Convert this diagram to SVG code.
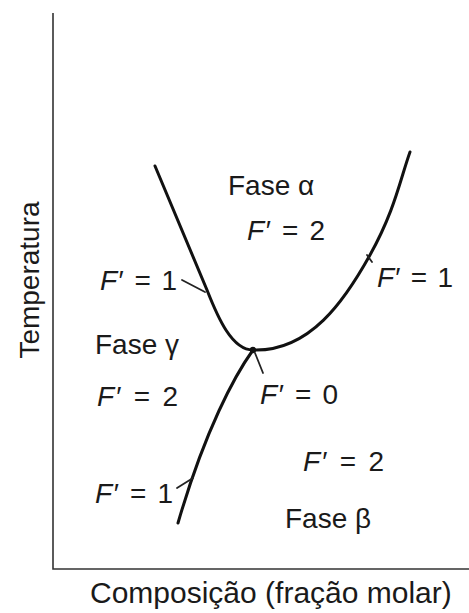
<svg xmlns="http://www.w3.org/2000/svg" width="469" height="613" viewBox="0 0 469 613">
<style>
.t{font-family:"Liberation Sans",Arial,sans-serif;font-size:28px;fill:#1a1a1a}
.f{font-style:italic}
.c{fill:none;stroke:#111;stroke-width:3;stroke-linecap:round}
.k{fill:none;stroke:#222;stroke-width:1.8;stroke-linecap:round}
.ax{fill:none;stroke:#333;stroke-width:1.6}
</style>
<rect width="469" height="613" fill="#fff"/>
<g id="axes">
<path class="ax" d="M53,13 V569 H469"/>
<text id="ylabel" class="t" text-anchor="middle" transform="translate(39,280) rotate(-90)">Temperatura</text>
<text id="xlabel" class="t" x="90" y="603" style="font-size:30px">Composição (fração molar)</text>
</g>
<g id="connectors">
<path class="c" d="M155,166 L207,290 C218,318 232,350 253,350"/>
<path class="c" d="M253,350 C310,352 345,300 370,255 S400,180 410,152"/>
<path class="c" d="M253,350 C235,375 205,430 178,523"/>
<circle cx="253" cy="350" r="3.2" fill="#111"/>
<path class="k" d="M182,280 L205,292"/>
<path class="k" d="M367,255 L372,262"/>
<path class="k" d="M255,353 L263,373"/>
<path class="k" d="M177,488 L193,478"/>
</g>
<g id="alpha">
<text class="t" x="228" y="195">Fase α</text>
<text class="t" x="247" y="240" textLength="78" lengthAdjust="spacing"><tspan class="f">F</tspan>′ = 2</text>
</g>
<g id="gamma">
<text class="t" x="95" y="354">Fase γ</text>
<text class="t" x="97" y="406" textLength="81" lengthAdjust="spacing"><tspan class="f">F</tspan>′ = 2</text>
</g>
<g id="beta">
<text class="t" x="303" y="471" textLength="81" lengthAdjust="spacing"><tspan class="f">F</tspan>′ = 2</text>
<text class="t" x="285" y="528">Fase β</text>
</g>
<g id="boundary-left">
<text class="t" x="100" y="290" textLength="77" lengthAdjust="spacing"><tspan class="f">F</tspan>′ = 1</text>
</g>
<g id="boundary-right">
<text class="t" x="377" y="287" textLength="76" lengthAdjust="spacing"><tspan class="f">F</tspan>′ = 1</text>
</g>
<g id="boundary-lower">
<text class="t" x="95" y="503" textLength="78" lengthAdjust="spacing"><tspan class="f">F</tspan>′ = 1</text>
</g>
<g id="triple-point">
<text class="t" x="260" y="404" textLength="78" lengthAdjust="spacing"><tspan class="f">F</tspan>′ = 0</text>
</g>
</svg>
